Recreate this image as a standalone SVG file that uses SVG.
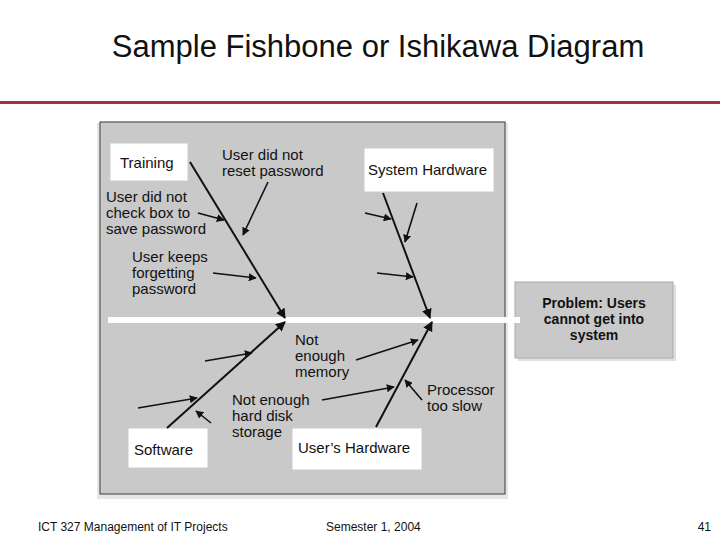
<svg xmlns="http://www.w3.org/2000/svg" width="720" height="540" viewBox="0 0 720 540">
<defs>
<marker id="ah" viewBox="0 0 10 10" refX="9" refY="5" markerWidth="5" markerHeight="5" orient="auto"><path d="M0,0L10,5L0,10z" fill="#111"/></marker>
<style>
.t{font-family:"Liberation Sans",Arial,sans-serif;fill:#111}
.l{font-size:15px}
.box{fill:#fff;stroke:#ccc;stroke-width:1}
.bone{stroke:#111;stroke-width:2;fill:none;marker-end:url(#ah)}
.sub{stroke:#111;stroke-width:1.6;fill:none;marker-end:url(#ah)}
</style>
</defs>
<rect width="720" height="540" fill="#fff"/>
<text class="t" x="378" y="57" font-size="31" text-anchor="middle">Sample Fishbone or Ishikawa Diagram</text>
<rect x="0" y="101" width="720" height="3" fill="#a83232"/>
<rect x="97" y="123" width="411" height="376" fill="#e6e6e6"/>
<rect x="100" y="122" width="405" height="372" fill="#c9c9c9" stroke="#555" stroke-width="1.2"/>
<rect x="518" y="285" width="158" height="76" fill="#e0e0e0"/>
<g id="problem"><rect x="515" y="282" width="158" height="76" fill="#c9c9c9" stroke="#aaa"/>
<text class="t" font-size="14" font-weight="bold" text-anchor="middle"><tspan x="594" y="308">Problem: Users</tspan><tspan x="594" y="324">cannot get into</tspan><tspan x="594" y="340">system</tspan></text></g>
<rect id="spine" x="108" y="317" width="412" height="6" fill="#fff"/>
<g id="training"><rect class="box" x="110" y="143" width="78" height="38"/><text class="t l" x="120" y="168">Training</text></g>
<g id="syshw"><rect class="box" x="364" y="148" width="130" height="44"/><text class="t l" x="368" y="175">System Hardware</text></g>
<g id="software"><rect class="box" x="128" y="428" width="80" height="40"/><text class="t l" x="134" y="455">Software</text></g>
<g id="usershw"><rect class="box" x="292" y="428" width="130" height="42"/><text class="t l" x="298" y="453">User’s Hardware</text></g>
<g id="labels">
<text class="t l"><tspan x="222" y="160">User did not</tspan><tspan x="222" y="176">reset password</tspan></text>
<text class="t l"><tspan x="106" y="202">User did not</tspan><tspan x="106" y="218">check box to</tspan><tspan x="106" y="234">save password</tspan></text>
<text class="t l"><tspan x="132" y="262">User keeps</tspan><tspan x="132" y="278">forgetting</tspan><tspan x="132" y="294">password</tspan></text>
<text class="t l"><tspan x="295" y="345">Not</tspan><tspan x="295" y="361">enough</tspan><tspan x="295" y="377">memory</tspan></text>
<text class="t l"><tspan x="232" y="405">Not enough</tspan><tspan x="232" y="421">hard disk</tspan><tspan x="232" y="437">storage</tspan></text>
<text class="t l"><tspan x="427" y="395">Processor</tspan><tspan x="427" y="411">too slow</tspan></text>
</g>
<g id="connectors">
<line class="bone" x1="190" y1="162" x2="285" y2="318"/>
<line class="bone" x1="383" y1="193" x2="430" y2="318"/>
<line class="bone" x1="167" y1="428" x2="285" y2="322"/>
<line class="bone" x1="376" y1="427" x2="432" y2="322"/>
<line class="sub" x1="198" y1="213" x2="224" y2="220"/>
<line class="sub" x1="268" y1="182" x2="243" y2="235"/>
<line class="sub" x1="213" y1="273" x2="256" y2="278"/>
<line class="sub" x1="365" y1="213" x2="391" y2="219"/>
<line class="sub" x1="417" y1="203" x2="405" y2="242"/>
<line class="sub" x1="377" y1="273" x2="413" y2="277"/>
<line class="sub" x1="205" y1="361" x2="252" y2="353"/>
<line class="sub" x1="138" y1="408" x2="197" y2="398"/>
<line class="sub" x1="211" y1="423" x2="196" y2="411"/>
<line class="sub" x1="356" y1="360" x2="418" y2="340"/>
<line class="sub" x1="322" y1="400" x2="394" y2="387"/>
<line class="sub" x1="422" y1="400" x2="405" y2="380"/>
</g>
<text class="t" x="38" y="531" font-size="12">ICT 327 Management of IT Projects</text>
<text class="t" x="326" y="531" font-size="12">Semester 1, 2004</text>
<text class="t" x="711" y="531" font-size="12" text-anchor="end">41</text>
</svg>
